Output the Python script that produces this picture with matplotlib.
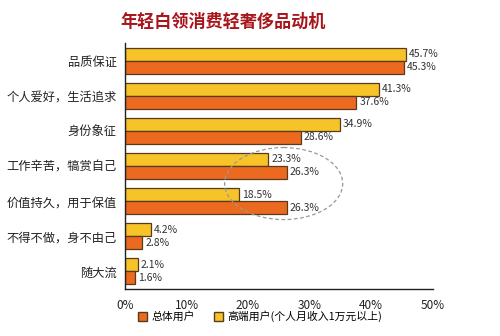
import matplotlib.pyplot as plt
from matplotlib.patches import Ellipse, Patch
import numpy as np

plt.rcParams['font.family'] = ['Noto Sans CJK SC', 'DejaVu Sans']

# Données
motifs = ["品质保证", "个人爱好，生活追求", "身份象征", "工作辛苦，犒赏自己",
          "价值持久，用于保值", "不得不做，身不由己", "随大流"]
haut_de_gamme = [45.7, 41.3, 34.9, 23.3, 18.5, 4.2, 2.1]
total = [45.3, 37.6, 28.6, 26.3, 26.3, 2.8, 1.6]
ticks = [0, 10, 20, 30, 40, 50]

jaune = "#F6C428"
orange = "#EC6A1F"
bord = "#5A3A1E"

fig = plt.figure(figsize=(5, 3.36), dpi=100)
ax = fig.add_axes([0.25, 0.14, 0.615, 0.732])

y = np.arange(len(motifs))
h = 0.37
ax.barh(y - h / 2, haut_de_gamme, height=h, color=jaune, edgecolor=bord, linewidth=0.9)
ax.barh(y + h / 2, total, height=h, color=orange, edgecolor=bord, linewidth=0.9)

for i in range(len(motifs)):
    ax.text(haut_de_gamme[i] + 0.5, y[i] - h / 2, f"{haut_de_gamme[i]}%",
            va="center", ha="left", fontsize=7.5, color="#333333")
    ax.text(total[i] + 0.5, y[i] + h / 2, f"{total[i]}%",
            va="center", ha="left", fontsize=7.5, color="#333333")

# ellipse pointillée autour des deux groupes
ax.add_patch(Ellipse((25.8, 3.5), 19.2, 2.05, fill=False, edgecolor="#999999",
                     linestyle=(0, (3, 2)), linewidth=0.9))

ax.set_xlim(0, 50)
ax.set_ylim(6.5, -0.5)
ax.set_yticks(y)
ax.set_yticklabels(motifs, fontsize=8.8, color="#222222")
ax.set_xticks(ticks)
ax.set_xticklabels([f"{t}%" for t in ticks], fontsize=8.5, color="#222222")
ax.tick_params(axis="both", length=0)
ax.tick_params(axis="x", pad=7)
ax.tick_params(axis="y", pad=6)
for s in ["top", "right"]:
    ax.spines[s].set_visible(False)
for s in ["left", "bottom"]:
    ax.spines[s].set_color("#222222")
    ax.spines[s].set_linewidth(1.0)

fig.text(0.446, 0.935, "年轻白领消费轻奢侈品动机", ha="center", va="center",
         fontsize=12.3, fontweight="bold", color="#A8161C")

handles = [Patch(facecolor=orange, edgecolor=bord, label="总体用户"),
           Patch(facecolor=jaune, edgecolor=bord, label="高端用户(个人月收入1万元以上)")]
fig.legend(handles=handles, loc="center", bbox_to_anchor=(0.52, 0.058), ncol=2,
           frameon=False, fontsize=7.8, handlelength=0.8, handleheight=0.8,
           handletextpad=0.4, columnspacing=1.8)

fig.savefig("out.png", dpi=100, facecolor="white")
